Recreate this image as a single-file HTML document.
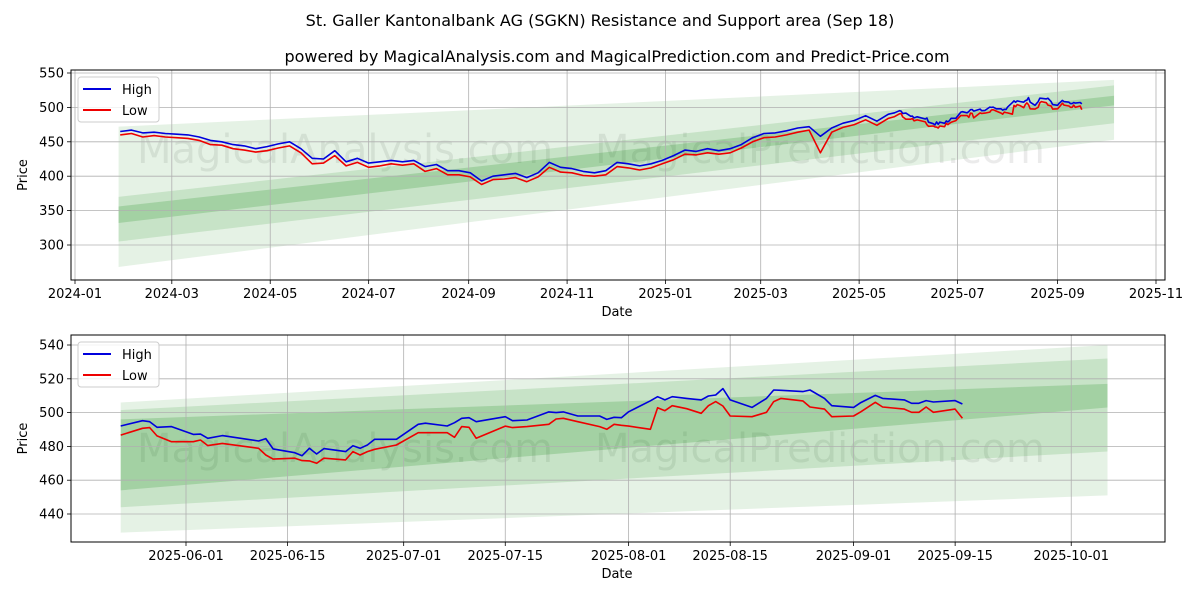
<!DOCTYPE html>
<html><head><meta charset="utf-8"><style>
body{margin:0;background:#fff;}
svg{display:block;font-family:"DejaVu Sans","Liberation Sans",sans-serif;}
</style></head><body>
<svg id="chart" width="1200" height="600" viewBox="0 0 1200 600" xmlns="http://www.w3.org/2000/svg">
<rect width="1200" height="600" fill="#fff"/>
<text x="600" y="26" text-anchor="middle" font-size="16">St. Galler Kantonalbank AG (SGKN) Resistance and Support area (Sep 18)</text>
<text x="617" y="62" text-anchor="middle" font-size="16">powered by MagicalAnalysis.com and MagicalPrediction.com and Predict-Price.com</text>
<g id="top"></g>
<g id="bot"></g>
</svg>
<script>
// ---- data ----
const topWeeklyStart = "2024-01-29";
const topWeeklyHigh = [465,467,463,464,462,461,460,457,452,450,446,444,440,443,447,450,440,426,425,437,421,426,419,421,423,421,423,414,417,408,408,405,393,400,402,404,398,405,420,413,411,407,405,408,420,418,415,418,423,430,438,436,440,437,440,446,456,462,463,466,470,472,458,470,477,481,488,480,490];
const topWeeklyLow = [460,462,457,459,457,456,455,452,446,445,440,438,435,437,441,444,434,418,419,430,415,420,413,415,418,416,418,407,411,402,402,399,388,395,396,398,392,399,413,406,405,401,400,402,414,412,409,412,418,424,432,431,434,432,434,441,450,456,457,460,464,467,434,464,471,475,482,474,484];
const dailyDates = ["2025-05-23","2025-05-26","2025-05-27","2025-05-28","2025-05-30","2025-06-02","2025-06-03","2025-06-04","2025-06-06","2025-06-11","2025-06-12","2025-06-13","2025-06-16","2025-06-17","2025-06-18","2025-06-19","2025-06-20","2025-06-23","2025-06-24","2025-06-25","2025-06-26","2025-06-27","2025-06-30","2025-07-03","2025-07-04","2025-07-07","2025-07-08","2025-07-09","2025-07-10","2025-07-11","2025-07-15","2025-07-16","2025-07-18","2025-07-21","2025-07-22","2025-07-23","2025-07-25","2025-07-28","2025-07-29","2025-07-30","2025-07-31","2025-08-01","2025-08-04","2025-08-05","2025-08-06","2025-08-07","2025-08-09","2025-08-11","2025-08-12","2025-08-13","2025-08-14","2025-08-15","2025-08-18","2025-08-20","2025-08-21","2025-08-22","2025-08-25","2025-08-26","2025-08-28","2025-08-29","2025-09-01","2025-09-02","2025-09-04","2025-09-05","2025-09-08","2025-09-09","2025-09-10","2025-09-11","2025-09-12","2025-09-15","2025-09-16"];
const dailyHigh = [492.1,495.2,494.6,491.3,491.7,487.1,487.3,484.8,486.4,483.2,484.6,478.5,476.3,474.5,478.9,475.5,478.7,476.9,480.4,478.9,480.8,484.2,484.2,493.1,493.7,492.1,494,496.6,497,494.6,497.6,495.2,495.6,500.4,500,500.4,498,498,496,497.2,497,500.5,507,509.4,507.5,509.4,508.4,507.5,509.8,510.4,514.2,507.5,503.1,508.4,513.4,513.2,512.4,513.4,508.4,504.1,503.1,505.9,510.2,508.4,507.5,505.5,505.5,507.1,506.3,507.1,505.1];
const dailyLow = [486.7,490.7,491.1,486.2,482.8,482.8,483.8,480.5,481.8,478.9,474.9,472.5,473,471.6,471.4,470,473,472,476.9,474.9,476.9,478.3,480.8,488.1,488.1,488.1,485.4,491.7,491.3,484.8,492,491.1,491.7,493.1,496.2,496.6,494.6,491.7,490.1,493.1,492.5,492,490.1,502.9,501.1,504.1,502.3,499.6,504.1,506.5,503.9,498,497.6,500.2,506.5,508.4,506.9,503.3,502.1,497.6,498,500.5,506.1,503.3,502.1,500.2,500.2,503.3,500.2,502.1,496.6];
// bands: [startLow, startHigh, endLow, endHigh]
const topBandStart = "2024-01-28", topBandEnd = "2025-10-06";
const topBands = [[268,472,453,540],[305,370,477,532],[332,356,503,517]];
const botBandStart = "2025-05-23", botBandEnd = "2025-10-06";
const botBands = [[429,506,451,540],[444,501.5,477,532],[454,496,503,517]];
const topYTicks = [300,350,400,450,500,550];
const topXTicks = ["2024-01","2024-03","2024-05","2024-07","2024-09","2024-11","2025-01","2025-03","2025-05","2025-07","2025-09","2025-11"];
const botYTicks = [440,460,480,500,520,540];
const botXTicks = ["2025-06-01","2025-06-15","2025-07-01","2025-07-15","2025-08-01","2025-08-15","2025-09-01","2025-09-15","2025-10-01"];

// ---- helpers ----
const NS="http://www.w3.org/2000/svg";
const DAY=86400000;
function t(s){ if(s.length===7) s+="-01"; return Date.parse(s+"T00:00:00Z"); }
function mk(parent,tag,attrs){const e=document.createElementNS(NS,tag);for(const k in attrs)e.setAttribute(k,attrs[k]);parent.appendChild(e);return e;}

const topDates=[], topHigh=[], topLow=[];
for(let i=0;i<topWeeklyHigh.length;i++){ topDates.push(t(topWeeklyStart)+i*7*DAY); topHigh.push(topWeeklyHigh[i]); topLow.push(topWeeklyLow[i]); }
for(let i=0;i<dailyDates.length;i++){ topDates.push(t(dailyDates[i])); topHigh.push(dailyHigh[i]); topLow.push(dailyLow[i]); }
const botDates = dailyDates.map(t);

function panel(g, cfg){
  const L=71,R=1165,T=cfg.top,B=cfg.bottom;
  const xs=d=>cfg.x0+(d-t(cfg.d0))/DAY*cfg.pxDay;
  const ys=v=>cfg.y0+(cfg.v0-v)*cfg.pxUnit;
  const clip=mk(g,"clipPath",{id:cfg.id+"-clip"}); mk(clip,"rect",{x:L,y:T,width:R-L,height:B-T});
  const cg=mk(g,"g",{"clip-path":"url(#"+cfg.id+"-clip)"});
  cfg.wm.forEach(w=>{const e=mk(cg,"text",{x:w[0],y:w[1],"font-size":40,fill:"#000","fill-opacity":0.08,"text-anchor":"middle"});e.textContent=w[2];
    
    });
  const bs=t(cfg.bs), be=t(cfg.be);
  cfg.bands.forEach((b,i)=>{
    const p=mk(cg,"polygon",{points:`${xs(bs)},${ys(b[0])} ${xs(be)},${ys(b[2])} ${xs(be)},${ys(b[3])} ${xs(bs)},${ys(b[1])}`,fill:"#008000","fill-opacity":[0.1,0.13,0.18][i]});
    
    
  });
  cfg.yt.forEach(v=>{const y=ys(v);mk(cg,"line",{x1:L,x2:R,y1:y,y2:y,stroke:"#b0b0b0","stroke-width":0.8});
    mk(g,"line",{x1:L-4,x2:L,y1:y,y2:y,stroke:"#000","stroke-width":0.8});
    const tx=mk(g,"text",{x:L-7,y:y+4.5,"font-size":13,"text-anchor":"end"});tx.textContent=v;
    
    });
  cfg.xt.forEach(s=>{const x=xs(t(s));mk(cg,"line",{x1:x,x2:x,y1:T,y2:B,stroke:"#b0b0b0","stroke-width":0.8});
    mk(g,"line",{x1:x,x2:x,y1:B,y2:B+4,stroke:"#000","stroke-width":0.8});
    const tx=mk(g,"text",{x:x,y:B+18,"font-size":13,"text-anchor":"middle"});tx.textContent=s;
    
    });
  const path=(d,v)=>d.map((di,i)=>(i?"L":"M")+xs(di).toFixed(1)+","+ys(v[i]).toFixed(1)).join("");
  const hl=mk(cg,"path",{d:path(cfg.dates,cfg.high),fill:"none",stroke:"#0000dd","stroke-width":1.6,"stroke-linejoin":"round"});
  
  
  const ll=mk(cg,"path",{d:path(cfg.dates,cfg.low),fill:"none",stroke:"#ee0000","stroke-width":1.6,"stroke-linejoin":"round"});
  
  
  mk(g,"rect",{x:L,y:T,width:R-L,height:B-T,fill:"none",stroke:"#000","stroke-width":1});
  const xl=mk(g,"text",{x:617,y:B+36,"font-size":13,"text-anchor":"middle"});xl.textContent="Date";
  
  
  const yl=mk(g,"text",{x:0,y:0,"font-size":13,"text-anchor":"middle",transform:`translate(27,${(T+B)/2}) rotate(-90)`});yl.textContent="Price";
  
  
  const lg=mk(g,"g",{});
  
  
  const ly=T+7;
  mk(lg,"rect",{x:78,y:ly,width:81,height:45,rx:3,fill:"#fff","fill-opacity":0.8,stroke:"#ccc"});
  mk(lg,"line",{x1:83,x2:111,y1:ly+12,y2:ly+12,stroke:"#0000dd","stroke-width":2});
  mk(lg,"line",{x1:83,x2:111,y1:ly+33,y2:ly+33,stroke:"#ee0000","stroke-width":2});
  const a=mk(lg,"text",{x:122,y:ly+17,"font-size":13});a.textContent="High";
  
  
  const b=mk(lg,"text",{x:122,y:ly+38,"font-size":13});b.textContent="Low";
  
  
}
panel(document.getElementById("top"),{id:"tp",top:70,bottom:280,x0:75,d0:"2024-01-01",pxDay:1081/670,y0:73,v0:550,pxUnit:0.688,
  yt:topYTicks,xt:topXTicks,dates:topDates,high:topHigh,low:topLow,bands:topBands,bs:topBandStart,be:topBandEnd,
  wm:[[345,163,"MagicalAnalysis.com"],[820,163,"MagicalPrediction.com"]]});
panel(document.getElementById("bot"),{id:"bt",top:335,bottom:542,x0:186,d0:"2025-06-01",pxDay:7.256,y0:345,v0:540,pxUnit:1.69,
  yt:botYTicks,xt:botXTicks,dates:botDates,high:dailyHigh,low:dailyLow,bands:botBands,bs:botBandStart,be:botBandEnd,
  wm:[[345,462,"MagicalAnalysis.com"],[820,462,"MagicalPrediction.com"]]});
</script>
</body></html>
